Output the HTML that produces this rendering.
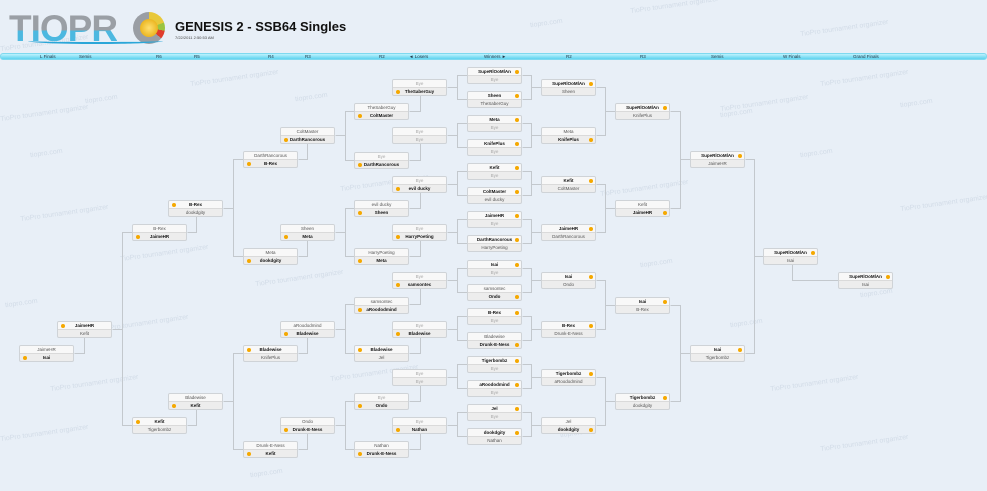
<!DOCTYPE html>
<html><head><meta charset="utf-8"><style>
*{margin:0;padding:0;box-sizing:border-box}
body{width:987px;height:491px;background:#e8eff7;position:relative;overflow:hidden;font-family:"Liberation Sans",sans-serif}
.wm{position:absolute;color:rgba(160,175,195,.3);font-size:7px;transform:rotate(-8deg);white-space:nowrap}
.b{position:absolute;width:55px;height:17px;border:1px solid #cfd3d7;border-radius:2px;overflow:hidden;background:#ededed}
.r{height:8px;line-height:8px;font-size:4.5px;text-align:center;color:#555;position:relative}
.r:first-child{background:#f8f8f8;border-bottom:1px solid #dadada;height:8px}
.r.w{font-weight:bold;color:#111}
.r.y{color:#aaa}
.d{position:absolute;top:2px;width:4px;height:4px;border-radius:50%;background:#f5a800}
.R .d{right:2px}.L .d{left:3px}
.hdr{position:absolute;left:0;top:53px;width:987px;height:7px;border-radius:3px;background:linear-gradient(#bdf2fd,#5fd3ef);border:1px solid #7fd9ef}
.hl{position:absolute;top:53px;font-size:4.5px;line-height:7px;color:#234}
</style></head><body>
<div class="wm" style="left:630px;top:2px">TioPro tournament organizer</div>
<div class="wm" style="left:0px;top:40px">TioPro tournament organizer</div>
<div class="wm" style="left:190px;top:75px">TioPro tournament organizer</div>
<div class="wm" style="left:85px;top:96px">tiopro.com</div>
<div class="wm" style="left:295px;top:94px">tiopro.com</div>
<div class="wm" style="left:0px;top:110px">TioPro tournament organizer</div>
<div class="wm" style="left:820px;top:75px">TioPro tournament organizer</div>
<div class="wm" style="left:720px;top:100px">TioPro tournament organizer</div>
<div class="wm" style="left:530px;top:20px">tiopro.com</div>
<div class="wm" style="left:800px;top:25px">TioPro tournament organizer</div>
<div class="wm" style="left:900px;top:100px">tiopro.com</div>
<div class="wm" style="left:30px;top:150px">tiopro.com</div>
<div class="wm" style="left:340px;top:180px">TioPro tournament organizer</div>
<div class="wm" style="left:720px;top:110px">tiopro.com</div>
<div class="wm" style="left:800px;top:150px">tiopro.com</div>
<div class="wm" style="left:600px;top:185px">TioPro tournament organizer</div>
<div class="wm" style="left:20px;top:210px">TioPro tournament organizer</div>
<div class="wm" style="left:900px;top:200px">TioPro tournament organizer</div>
<div class="wm" style="left:120px;top:250px">TioPro tournament organizer</div>
<div class="wm" style="left:255px;top:275px">TioPro tournament organizer</div>
<div class="wm" style="left:640px;top:260px">tiopro.com</div>
<div class="wm" style="left:5px;top:300px">tiopro.com</div>
<div class="wm" style="left:860px;top:290px">tiopro.com</div>
<div class="wm" style="left:100px;top:320px">TioPro tournament organizer</div>
<div class="wm" style="left:730px;top:320px">tiopro.com</div>
<div class="wm" style="left:50px;top:380px">TioPro tournament organizer</div>
<div class="wm" style="left:330px;top:370px">TioPro tournament organizer</div>
<div class="wm" style="left:770px;top:380px">TioPro tournament organizer</div>
<div class="wm" style="left:0px;top:430px">TioPro tournament organizer</div>
<div class="wm" style="left:560px;top:430px">tiopro.com</div>
<div class="wm" style="left:820px;top:440px">TioPro tournament organizer</div>
<div class="wm" style="left:250px;top:470px">tiopro.com</div>

<div style="position:absolute;left:9px;top:12px;font:bold 37px/34px 'Liberation Sans',sans-serif;color:#8d9298;letter-spacing:-1px;background:linear-gradient(#9a9fa5 0 55%,#4cb8e0 55% 100%);-webkit-background-clip:text;background-clip:text;-webkit-text-fill-color:transparent">TIOPR</div>
<div style="position:absolute;left:133px;top:12px;width:32px;height:32px;border-radius:50%;background:conic-gradient(#e8c83a 0 70deg,#9bc440 70deg 100deg,#e03c2c 100deg 130deg,#9a9ea4 130deg 360deg)"></div>
<div style="position:absolute;left:140px;top:19px;width:18px;height:18px;border-radius:50%;background:radial-gradient(#ffe070,#e3a400)"></div>
<div style="position:absolute;left:28px;top:38px;width:135px;height:6px;border-radius:50%;border-bottom:2px solid #2aa6d8"></div>
<div style="position:absolute;left:175px;top:20px;font:bold 13px/14px 'Liberation Sans',sans-serif;color:#111">GENESIS 2 - SSB64 Singles</div>
<div style="position:absolute;left:175px;top:35px;font-size:4px;color:#444">7/22/2011 2:50:53 AM</div>

<div class="hdr"></div>
<div class="hl" style="left:40px">L Finals</div>
<div class="hl" style="left:79px">Semis</div>
<div class="hl" style="left:156px">R6</div>
<div class="hl" style="left:194px">R5</div>
<div class="hl" style="left:268px">R4</div>
<div class="hl" style="left:305px">R3</div>
<div class="hl" style="left:379px">R2</div>
<div class="hl" style="left:409px">◄ Losers</div>
<div class="hl" style="left:484px">Winners ►</div>
<div class="hl" style="left:566px">R2</div>
<div class="hl" style="left:640px">R3</div>
<div class="hl" style="left:711px">Semis</div>
<div class="hl" style="left:783px">W Finals</div>
<div class="hl" style="left:853px">Grand Finals</div>

<svg width="987" height="491" style="position:absolute;left:0;top:0" fill="none" stroke="#c3c8cd" stroke-width="1">
<g transform="translate(0.5,0.5)">
<path d="M522 75H531V99H522M531 87H541M522 123H531V147H522M531 135H541M522 171H531V195H522M531 184H541M522 219H531V243H522M531 232H541M522 268H531V292H522M531 280H541M522 316H531V340H522M531 329H541M522 364H531V388H522M531 377H541M522 412H531V436H522M531 425H541"/>
<path d="M596 87H605V135H596M605 111H615M596 184H605V232H596M605 208H615M596 280H605V329H596M605 305H615M596 377H605V425H596M605 401H615"/>
<path d="M670 111H680V208H670M680 159H690M670 305H680V401H670M680 353H690"/>
<path d="M745 159H754V353H745M754 256H763"/>
<path d="M792 264V280H838"/>
<path d="M467 75H457V99H467M457 87H447M467 123H457V147H467M457 135H447M467 171H457V195H467M457 184H447M467 219H457V243H467M457 232H447M467 268H457V292H467M457 280H447M467 316H457V340H467M457 329H447M467 364H457V388H467M457 377H447M467 412H457V436H467M457 425H447"/>
<path d="M420 95V111H409M420 143V160H409M420 192V208H409M420 240V256H409M420 288V304H409M420 337V353H409M420 385V401H409M420 433V449H409"/>
<path d="M354 111H345V160H354M345 135H335M354 208H345V256H354M345 232H335M354 304H345V353H354M345 329H335M354 401H345V449H354M345 425H335"/>
<path d="M307 143V159H298M307 240V256H298M307 337V353H298M307 433V449H298"/>
<path d="M243 159H233V256H243M233 208H223M243 353H233V449H243M233 401H223"/>
<path d="M196 216V232H187M196 409V425H187"/>
<path d="M132 232H122V425H132M122 329H112"/>
<path d="M84 337V353H74"/>
</g></svg>

<div class="b R" style="left:467px;top:67px"><div class="r w">SupeRlOoMlAn<i class="d"></i></div><div class="r y">Bye</div></div>
<div class="b R" style="left:467px;top:91px"><div class="r w">Sheen<i class="d"></i></div><div class="r">TheSaberGuy</div></div>
<div class="b R" style="left:467px;top:115px"><div class="r w">Meta<i class="d"></i></div><div class="r y">Bye</div></div>
<div class="b R" style="left:467px;top:139px"><div class="r w">KnifePlus<i class="d"></i></div><div class="r y">Bye</div></div>
<div class="b R" style="left:467px;top:163px"><div class="r w">Kefit<i class="d"></i></div><div class="r y">Bye</div></div>
<div class="b R" style="left:467px;top:187px"><div class="r w">ColtMaster<i class="d"></i></div><div class="r">evil ducky</div></div>
<div class="b R" style="left:467px;top:211px"><div class="r w">JaimeHR<i class="d"></i></div><div class="r y">Bye</div></div>
<div class="b R" style="left:467px;top:235px"><div class="r w">DarthRancorous<i class="d"></i></div><div class="r">HarryPoeting</div></div>
<div class="b R" style="left:467px;top:260px"><div class="r w">Isai<i class="d"></i></div><div class="r y">Bye</div></div>
<div class="b R" style="left:467px;top:284px"><div class="r">samsontec</div><div class="r w">Ondo<i class="d"></i></div></div>
<div class="b R" style="left:467px;top:308px"><div class="r w">B-Rex<i class="d"></i></div><div class="r y">Bye</div></div>
<div class="b R" style="left:467px;top:332px"><div class="r">Bladewise</div><div class="r w">Drunk-E-Ness<i class="d"></i></div></div>
<div class="b R" style="left:467px;top:356px"><div class="r w">Tigerbombz<i class="d"></i></div><div class="r y">Bye</div></div>
<div class="b R" style="left:467px;top:380px"><div class="r w">aRoododmind<i class="d"></i></div><div class="r y">Bye</div></div>
<div class="b R" style="left:467px;top:404px"><div class="r w">Jel<i class="d"></i></div><div class="r y">Bye</div></div>
<div class="b R" style="left:467px;top:428px"><div class="r w">dookdgity<i class="d"></i></div><div class="r">Nathan</div></div>
<div class="b R" style="left:541px;top:79px"><div class="r w">SupeRlOoMlAn<i class="d"></i></div><div class="r">Sheen</div></div>
<div class="b R" style="left:541px;top:127px"><div class="r">Meta</div><div class="r w">KnifePlus<i class="d"></i></div></div>
<div class="b R" style="left:541px;top:176px"><div class="r w">Kefit<i class="d"></i></div><div class="r">ColtMaster</div></div>
<div class="b R" style="left:541px;top:224px"><div class="r w">JaimeHR<i class="d"></i></div><div class="r">DarthRancorous</div></div>
<div class="b R" style="left:541px;top:272px"><div class="r w">Isai<i class="d"></i></div><div class="r">Ondo</div></div>
<div class="b R" style="left:541px;top:321px"><div class="r w">B-Rex<i class="d"></i></div><div class="r">Drunk-E-Ness</div></div>
<div class="b R" style="left:541px;top:369px"><div class="r w">Tigerbombz<i class="d"></i></div><div class="r">aRoododmind</div></div>
<div class="b R" style="left:541px;top:417px"><div class="r">Jel</div><div class="r w">dookdgity<i class="d"></i></div></div>
<div class="b R" style="left:615px;top:103px"><div class="r w">SupeRlOoMlAn<i class="d"></i></div><div class="r">KnifePlus</div></div>
<div class="b R" style="left:615px;top:200px"><div class="r">Kefit</div><div class="r w">JaimeHR<i class="d"></i></div></div>
<div class="b R" style="left:615px;top:297px"><div class="r w">Isai<i class="d"></i></div><div class="r">B-Rex</div></div>
<div class="b R" style="left:615px;top:393px"><div class="r w">Tigerbombz<i class="d"></i></div><div class="r">dookdgity</div></div>
<div class="b R" style="left:690px;top:151px"><div class="r w">SupeRlOoMlAn<i class="d"></i></div><div class="r">JaimeHR</div></div>
<div class="b R" style="left:690px;top:345px"><div class="r w">Isai<i class="d"></i></div><div class="r">Tigerbombz</div></div>
<div class="b R" style="left:763px;top:248px"><div class="r w">SupeRlOoMlAn<i class="d"></i></div><div class="r">Isai</div></div>
<div class="b R" style="left:838px;top:272px"><div class="r w">SupeRlOoMlAn<i class="d"></i></div><div class="r">Isai</div></div>
<div class="b L" style="left:392px;top:79px"><div class="r y">Bye</div><div class="r w"><i class="d"></i>TheSaberGuy</div></div>
<div class="b L" style="left:392px;top:127px"><div class="r y">Bye</div><div class="r y">Bye</div></div>
<div class="b L" style="left:392px;top:176px"><div class="r y">Bye</div><div class="r w"><i class="d"></i>evil ducky</div></div>
<div class="b L" style="left:392px;top:224px"><div class="r y">Bye</div><div class="r w"><i class="d"></i>HarryPoeting</div></div>
<div class="b L" style="left:392px;top:272px"><div class="r y">Bye</div><div class="r w"><i class="d"></i>samsontec</div></div>
<div class="b L" style="left:392px;top:321px"><div class="r y">Bye</div><div class="r w"><i class="d"></i>Bladewise</div></div>
<div class="b L" style="left:392px;top:369px"><div class="r y">Bye</div><div class="r y">Bye</div></div>
<div class="b L" style="left:392px;top:417px"><div class="r y">Bye</div><div class="r w"><i class="d"></i>Nathan</div></div>
<div class="b L" style="left:354px;top:103px"><div class="r">TheSaberGuy</div><div class="r w"><i class="d"></i>ColtMaster</div></div>
<div class="b L" style="left:354px;top:152px"><div class="r y">Bye</div><div class="r w"><i class="d"></i>DarthRancorous</div></div>
<div class="b L" style="left:354px;top:200px"><div class="r">evil ducky</div><div class="r w"><i class="d"></i>Sheen</div></div>
<div class="b L" style="left:354px;top:248px"><div class="r">HarryPoeting</div><div class="r w"><i class="d"></i>Meta</div></div>
<div class="b L" style="left:354px;top:297px"><div class="r">samsontec</div><div class="r w"><i class="d"></i>aRoododmind</div></div>
<div class="b L" style="left:354px;top:345px"><div class="r w"><i class="d"></i>Bladewise</div><div class="r">Jel</div></div>
<div class="b L" style="left:354px;top:393px"><div class="r y">Bye</div><div class="r w"><i class="d"></i>Ondo</div></div>
<div class="b L" style="left:354px;top:441px"><div class="r">Nathan</div><div class="r w"><i class="d"></i>Drunk-E-Ness</div></div>
<div class="b L" style="left:280px;top:127px"><div class="r">ColtMaster</div><div class="r w"><i class="d"></i>DarthRancorous</div></div>
<div class="b L" style="left:280px;top:224px"><div class="r">Sheen</div><div class="r w"><i class="d"></i>Meta</div></div>
<div class="b L" style="left:280px;top:321px"><div class="r">aRoododmind</div><div class="r w"><i class="d"></i>Bladewise</div></div>
<div class="b L" style="left:280px;top:417px"><div class="r">Ondo</div><div class="r w"><i class="d"></i>Drunk-E-Ness</div></div>
<div class="b L" style="left:243px;top:151px"><div class="r">DarthRancorous</div><div class="r w"><i class="d"></i>B-Rex</div></div>
<div class="b L" style="left:243px;top:248px"><div class="r">Meta</div><div class="r w"><i class="d"></i>dookdgity</div></div>
<div class="b L" style="left:243px;top:345px"><div class="r w"><i class="d"></i>Bladewise</div><div class="r">KnifePlus</div></div>
<div class="b L" style="left:243px;top:441px"><div class="r">Drunk-E-Ness</div><div class="r w"><i class="d"></i>Kefit</div></div>
<div class="b L" style="left:168px;top:200px"><div class="r w"><i class="d"></i>B-Rex</div><div class="r">dookdgity</div></div>
<div class="b L" style="left:168px;top:393px"><div class="r">Bladewise</div><div class="r w"><i class="d"></i>Kefit</div></div>
<div class="b L" style="left:132px;top:224px"><div class="r">B-Rex</div><div class="r w"><i class="d"></i>JaimeHR</div></div>
<div class="b L" style="left:132px;top:417px"><div class="r w"><i class="d"></i>Kefit</div><div class="r">Tigerbombz</div></div>
<div class="b L" style="left:57px;top:321px"><div class="r w"><i class="d"></i>JaimeHR</div><div class="r">Kefit</div></div>
<div class="b L" style="left:19px;top:345px"><div class="r">JaimeHR</div><div class="r w"><i class="d"></i>Isai</div></div>
</body></html>
